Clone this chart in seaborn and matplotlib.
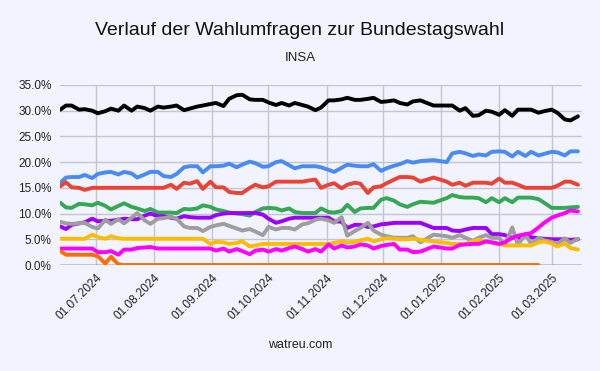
import pandas as pd
import numpy as np
import matplotlib.pyplot as plt
import matplotlib.dates as mdates
import seaborn as sns

# poll dates (INSA, roughly twice a week)
dates = ["2024-06-12", "2024-06-15", "2024-06-18", "2024-06-22", "2024-06-25", "2024-06-29",
         "2024-07-02", "2024-07-06", "2024-07-09", "2024-07-13", "2024-07-16", "2024-07-20",
         "2024-07-23", "2024-07-27", "2024-07-30", "2024-08-03", "2024-08-06", "2024-08-10",
         "2024-08-13", "2024-08-17", "2024-08-20", "2024-08-24", "2024-08-27", "2024-08-31",
         "2024-09-03", "2024-09-07", "2024-09-10", "2024-09-14", "2024-09-17", "2024-09-21",
         "2024-09-24", "2024-09-28", "2024-10-01", "2024-10-05", "2024-10-08", "2024-10-12",
         "2024-10-15", "2024-10-19", "2024-10-22", "2024-10-26", "2024-10-29", "2024-11-02",
         "2024-11-05", "2024-11-09", "2024-11-12", "2024-11-16", "2024-11-19", "2024-11-23",
         "2024-11-26", "2024-11-30", "2024-12-03", "2024-12-07", "2024-12-10", "2024-12-14",
         "2024-12-17", "2024-12-21", "2024-12-28", "2025-01-04", "2025-01-07", "2025-01-11",
         "2025-01-14", "2025-01-18", "2025-01-21", "2025-01-25", "2025-01-28", "2025-02-01",
         "2025-02-04", "2025-02-08", "2025-02-11", "2025-02-15", "2025-02-18", "2025-02-22",
         "2025-02-25", "2025-03-01", "2025-03-04", "2025-03-08", "2025-03-11", "2025-03-15"]

cdu = [30.2, 31.0, 31.0, 30.2, 30.3, 30.0, 29.5, 29.9, 30.4, 30.0, 31.0, 30.0,
       30.8, 30.5, 30.0, 30.8, 30.6, 30.8, 31.0, 30.1, 30.4, 30.8, 31.0, 31.3,
       31.5, 30.9, 32.3, 33.0, 33.1, 32.2, 32.1, 32.1, 31.6, 31.1, 31.5, 31.0,
       31.5, 31.1, 30.8, 30.1, 30.6, 32.0, 32.0, 32.2, 32.5, 32.1, 32.1, 32.3,
       32.5, 31.7, 31.8, 32.0, 31.5, 31.2, 31.8, 32.0, 31.0, 31.0, 31.0, 30.0,
       30.5, 29.0, 29.1, 30.0, 29.8, 29.2, 30.1, 29.0, 30.2, 30.2, 30.2, 29.6,
       29.9, 30.2, 29.6, 28.3, 28.1, 28.9]
afd = [16.0, 17.0, 17.1, 17.1, 17.5, 16.9, 17.7, 18.0, 18.1, 17.6, 18.1, 17.8,
       17.0, 17.6, 18.1, 18.1, 17.3, 17.1, 17.7, 19.0, 19.2, 19.2, 18.0, 19.2,
       19.2, 19.3, 19.7, 19.0, 19.5, 20.1, 19.8, 19.1, 19.2, 20.0, 20.2, 19.4,
       18.8, 19.2, 19.2, 19.2, 19.0, 18.5, 18.1, 18.9, 19.5, 19.3, 19.2, 19.2,
       19.6, 18.3, 18.8, 19.3, 19.6, 20.2, 19.9, 20.2, 20.4, 20.0, 21.7, 22.0,
       21.7, 21.2, 21.5, 21.3, 22.0, 22.1, 22.0, 21.1, 22.0, 21.2, 22.0, 21.3,
       21.6, 22.0, 21.9, 21.3, 22.1, 22.1]
spd = [15.3, 16.1, 15.1, 15.0, 14.6, 15.0, 15.0, 15.0, 15.0, 15.0, 15.0, 15.0,
       15.0, 15.0, 15.0, 15.0, 15.0, 15.6, 14.8, 16.0, 15.8, 16.3, 14.8, 16.2,
       15.1, 15.1, 14.2, 14.0, 14.0, 15.0, 15.6, 15.1, 15.3, 16.2, 16.2, 16.2,
       16.2, 16.2, 16.4, 16.6, 15.0, 15.6, 15.9, 14.9, 15.6, 16.0, 15.8, 14.0,
       15.1, 15.3, 15.9, 16.6, 17.1, 17.1, 17.0, 16.2, 17.0, 16.2, 15.6, 16.0,
       15.4, 16.0, 16.0, 16.0, 15.8, 16.8, 16.0, 16.0, 15.6, 15.0, 15.0, 15.0,
       15.0, 15.0, 15.4, 16.2, 16.2, 15.6]
gruene = [12.1, 11.2, 11.1, 11.9, 11.8, 11.6, 12.1, 11.5, 10.8, 11.5, 12.0, 11.3,
          11.0, 10.5, 10.9, 10.2, 10.2, 10.2, 10.1, 10.9, 10.8, 11.0, 11.6, 11.3,
          10.8, 10.5, 10.2, 10.0, 9.9, 9.6, 10.3, 11.0, 11.1, 11.0, 10.6, 11.0,
          10.3, 10.1, 10.1, 10.1, 11.0, 10.3, 10.2, 10.5, 11.7, 10.3, 11.0, 11.1,
          11.1, 12.7, 13.0, 12.5, 11.8, 11.3, 11.8, 12.3, 12.1, 13.0, 13.6, 13.2,
          13.1, 13.1, 13.0, 12.2, 13.0, 12.2, 13.0, 12.2, 13.1, 13.1, 13.1, 12.8,
          12.1, 11.1, 11.1, 11.1, 11.2, 11.3]
bsw = [7.5, 7.0, 7.8, 8.1, 8.3, 9.0, 8.5, 8.6, 8.6, 8.8, 9.0, 8.9,
       8.9, 9.6, 10.0, 9.5, 9.5, 9.2, 9.0, 9.5, 9.3, 9.2, 9.2, 9.2,
       9.7, 10.0, 10.1, 10.1, 10.1, 10.1, 10.1, 9.8, 9.0, 8.2, 8.5, 9.0,
       9.2, 9.2, 9.2, 9.2, 9.2, 9.2, 8.5, 8.4, 7.2, 7.8, 7.8, 7.4,
       7.5, 7.9, 8.0, 8.2, 8.2, 8.2, 8.2, 8.2, 7.2, 7.2, 6.7, 6.6,
       6.9, 7.2, 7.2, 7.2, 6.0, 6.0, 5.8, 5.3, 5.3, 5.6, 5.4, 5.2,
       5.1, 5.0, 5.0, 5.0, 4.9, 5.0]
fdp = [8.4, 8.1, 8.0, 8.1, 8.2, 7.4, 7.1, 8.8, 8.0, 8.9, 8.1, 9.2,
       10.1, 8.7, 8.0, 9.0, 9.1, 9.4, 9.0, 7.5, 7.2, 7.2, 6.6, 7.4,
       7.7, 8.0, 7.6, 7.1, 6.7, 7.0, 6.5, 5.8, 7.4, 6.9, 7.2, 7.2,
       6.9, 7.9, 8.1, 8.8, 9.0, 8.7, 8.2, 9.3, 5.7, 6.6, 7.2, 8.2,
       6.7, 5.9, 5.6, 5.3, 5.3, 5.3, 5.6, 4.4, 5.9, 5.6, 5.3, 5.8,
       5.3, 4.7, 5.3, 5.8, 5.3, 5.3, 3.9, 7.3, 3.9, 6.0, 4.1, 5.3,
       4.8, 4.5, 4.1, 5.2, 4.3, 5.1]
fw = [5.1, 5.1, 5.1, 5.1, 5.1, 5.9, 5.4, 5.1, 5.6, 5.2, 5.1, 5.1,
      5.1, 5.1, 5.1, 5.1, 5.1, 5.1, 5.1, 5.1, 5.1, 5.1, 5.1, 4.1,
      4.5, 4.4, 4.1, 4.3, 4.6, 3.6, 3.8, 4.1, 4.1, 4.1, 4.1, 4.1,
      4.1, 4.1, 4.1, 4.1, 4.1, 4.1, 4.3, 4.6, 4.4, 4.5, 4.8, 5.1,
      4.6, 5.0, 5.2, 5.1, 5.0, 5.0, 5.1, 4.9, 4.6, 4.3, 4.1, 4.1,
      4.1, 4.6, 4.9, 4.5, 4.4, 4.1, 3.8, 3.8, 3.8, 3.8, 3.8, 4.4,
      4.6, 4.2, 3.6, 4.2, 3.3, 3.0]
linke = [3.2, 3.2, 3.2, 3.2, 3.2, 3.2, 2.5, 2.5, 2.7, 2.0, 3.0, 3.0,
         3.3, 3.4, 3.5, 3.2, 3.2, 3.2, 3.2, 3.2, 3.2, 3.2, 3.2, 3.2,
         2.8, 3.2, 2.6, 3.1, 2.7, 2.1, 2.8, 3.0, 2.6, 3.1, 2.8, 3.3,
         3.6, 3.1, 2.6, 3.1, 2.6, 4.0, 3.2, 3.8, 3.4, 3.6, 4.0, 3.8,
         3.2, 3.7, 3.9, 4.1, 3.0, 3.0, 2.5, 2.6, 3.6, 3.2, 3.2, 3.9,
         4.0, 4.1, 4.1, 4.6, 4.4, 4.1, 4.4, 5.3, 5.7, 6.0, 6.2, 7.3,
         8.2, 9.2, 9.6, 10.1, 10.6, 10.4]
sonstige = [2.7, 2.0, 2.0, 2.0, 2.0, 2.0, 1.7, 0.3, 1.6, 0.1, 0.0, 0.0,
            0.0, 0.0, 0.0, 0.0, 0.0, 0.0, 0.0, 0.0, 0.0, 0.0, 0.0, 0.0,
            0.0, 0.0, 0.0, 0.0, 0.0, 0.0, 0.0, 0.0, 0.0, 0.0, 0.0, 0.0,
            0.0, 0.0, 0.0, 0.0, 0.0, 0.0, 0.0, 0.0, 0.0, 0.0, 0.0, 0.0,
            0.0, 0.0, 0.0, 0.0, 0.0, 0.0, 0.0, 0.0, 0.0, 0.0, 0.0, 0.0,
            0.0, 0.0, 0.0, 0.0, 0.0, 0.0, 0.0, 0.0, 0.0, 0.0, 0.0, 0.0,
            None, None, None, None, None, None]

parties = ["CDU/CSU", "AfD", "SPD", "Grüne", "BSW", "FDP", "FW", "Linke", "Sonstige"]
series = [cdu, afd, spd, gruene, bsw, fdp, fw, linke, sonstige]
colors = ["#000000", "#4a8af4", "#ea4335", "#34a853", "#9b00ff",
          "#9e9e9e", "#fbbc04", "#ff00ff", "#ff6d01"]

df = pd.concat([pd.DataFrame({"datum": pd.to_datetime(dates), "partei": p, "wert": v})
                for p, v in zip(parties, series)], ignore_index=True)
df["wert"] = pd.to_numeric(df["wert"])
df = df.dropna()

bg = "#f1f4ff"
sns.set_style("white")
plt.rcParams["font.family"] = ["Liberation Sans", "DejaVu Sans"]

fig = plt.figure(figsize=(6, 3.71), dpi=100, facecolor=bg)
ax = fig.add_axes([0.1, 0.2857, 0.87, 0.4853])
ax.set_facecolor(bg)

sns.lineplot(data=df, x="datum", y="wert", hue="partei", hue_order=parties,
             palette=dict(zip(parties, colors)), linewidth=2.8, legend=False, ax=ax)

ax.set_ylim(0, 35)
ax.set_yticks([0, 5, 10, 15, 20, 25, 30, 35])
ax.set_yticklabels([f"{t:.1f}%" for t in [0, 5, 10, 15, 20, 25, 30, 35]])
ax.set_xlim(pd.Timestamp("2024-06-11 20:00"), pd.Timestamp("2025-03-17 04:00"))
ax.xaxis.set_major_locator(mdates.MonthLocator(bymonthday=1))
ax.xaxis.set_major_formatter(mdates.DateFormatter("%d.%m.%Y"))
plt.setp(ax.get_xticklabels(), rotation=45, ha="right", va="top", rotation_mode="anchor")
ax.tick_params(axis="both", length=0, labelsize=8.5, colors="#222222")
ax.tick_params(axis="x", pad=5)
ax.tick_params(axis="y", pad=6)

ax.grid(True, color="#c3c5d1", linewidth=1)
ax.set_axisbelow(True)
sns.despine(ax=ax, left=True, bottom=True)
ax.axhline(0, color="#333333", linewidth=1, zorder=1)
ax.set_xlabel("")
ax.set_ylabel("")

fig.text(0.5, 0.919, "Verlauf der Wahlumfragen zur Bundestagswahl", ha="center", va="center",
         fontsize=14, color="#111111")
fig.text(0.5, 0.845, "INSA", ha="center", va="center", fontsize=9.5, color="#222222")
fig.text(0.5, 0.07, "watreu.com", ha="center", va="center", fontsize=9, color="#222222")

plt.savefig("out.png", dpi=100, facecolor=bg)
